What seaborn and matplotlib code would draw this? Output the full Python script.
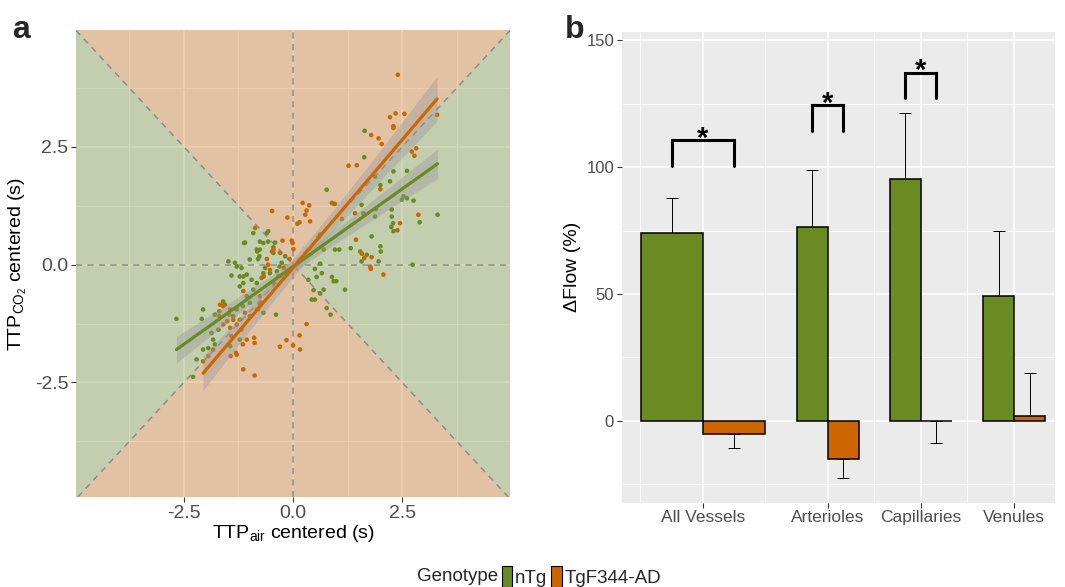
import numpy as np
import pandas as pd
import matplotlib
matplotlib.use('Agg')
import matplotlib.pyplot as plt
import seaborn as sns
from matplotlib.patches import Patch

# ---- panel a data: centred time-to-peak (s) ----
ntg_air = [1.64, 1.63, 0.77, 0.89, 0.96, 2.61, 2.30, 2.22, 2.00, 1.88, 2.61, 2.49, 2.53, 2.76,
           1.57, 1.61, 1.88, 1.90, 2.26, 2.26, 2.29, 2.25, 2.30, 2.90, 3.31, 1.32, 1.06, 0.96,
           0.70, 0.62, 0.58, 1.54, 1.57, 1.69, 1.80, 2.00, 2.01, 1.96, 2.74, 0.50, 0.54, 0.62,
           0.66, 0.35, 0.47, 0.62, 0.50, 0.70, 0.89, 0.93, 0.99, 1.19, 0.43, 0.77, 0.86,
           -1.10, -1.12, -0.91, -0.83, -0.82, -0.76, -0.77, -0.68, -0.60, -0.57, -0.41, -0.45,
           -0.45, -0.57, -0.76, -0.80, -0.99, -1.18, -1.29, -1.33, -1.48, -1.41, -1.22, -1.14,
           -1.06, -1.14, -0.95, -0.91, -0.83, -0.72, -0.68, -0.64, -0.53, -0.37, -0.31, -0.26,
           -0.18, -1.22, -1.06, -0.99, -1.15, -1.29, -1.37, -1.56, -1.69, -1.79, -2.06, -2.09,
           -1.87, -1.83, -1.79, -1.94, -2.06, -2.21, -2.29, -2.67, -0.39, -0.68, -1.44, -1.22,
           -1.71, -1.60, -0.76, -0.80]
ntg_co2 = [2.84, 2.28, 1.59, 1.31, 1.29, 1.99, 1.98, 1.77, 1.69, 1.87, 1.41, 1.38, 1.45, 1.36,
           1.27, 1.09, 1.02, 1.18, 1.17, 1.02, 0.88, 0.80, 0.71, 0.90, 1.06, 0.35, 0.32, 0.32,
           0.32, 0.64, 0.58, 0.28, 0.07, 0.21, 0.60, 0.39, 0.28, 0.07, 0.00, -0.09, -0.26, 0.02,
           -0.18, -0.32, -0.54, -0.61, -0.74, -0.53, -0.26, -0.35, -0.35, -0.53, -0.74, -0.92, -1.06,
           0.47, 0.46, 0.67, 0.32, 0.28, 0.32, 0.18, 0.46, 0.67, 0.71, 0.47, 0.37,
           0.25, 0.49, 0.49, 0.12, 0.11, -0.07, -0.04, 0.04, 0.07, -0.23, -0.25, -0.25,
           -0.21, -0.39, -0.32, -0.53, -0.39, -0.28, -0.18, -0.07, -0.18, -0.14, -0.04, 0.04,
           0.18, -0.46, -0.67, -0.81, -0.88, -0.95, -1.09, -0.85, -0.99, -1.06, -0.95, -1.15,
           -1.45, -1.59, -1.69, -1.77, -1.80, -2.01, -2.38, -1.15, -1.06, -1.02, -1.73, -1.59,
           -1.38, -0.78, -0.85, -0.95]
tg_air = [2.40, 3.30, 2.35, 2.55, 2.22, 2.30, 2.30, 1.79, 1.96, 2.03, 2.72, 2.78, 2.82, 1.27,
          1.46, 2.00, 2.87, 2.45, 2.39, 0.93, 1.12, 1.42, 1.44, 1.58, 1.63, 1.80, 1.77, 1.78,
          2.07, 0.22, 0.37, 0.31, 0.28, 0.15, 0.10, 0.39, -0.13, -0.48, -0.24, -0.03, -0.01,
          0.01, -0.08, -0.87, -0.48, -0.60, -0.57, -0.53, -0.67, -1.67, -1.60, -1.44, -1.46,
          -1.37, -1.60, -1.51, -1.44, -1.69, -1.29, -1.22, -1.18, -1.06, -1.10, -0.99, -0.83,
          -0.72, -0.76, -1.14, -1.41, -1.43, -1.31, -1.29, -1.14, -0.88, -0.89, -0.88, -1.15,
          -2.06, -1.94, -1.83, -0.30, -0.15, 0.00, 0.16, 0.15, 0.31, -0.34, -0.45, -0.21,
          -0.45, -0.30]
tg_co2 = [4.03, 3.18, 3.21, 3.20, 3.13, 2.94, 2.90, 2.75, 2.68, 2.56, 2.40, 2.31, 2.47, 2.10,
          2.11, 1.60, 1.06, 0.88, 0.73, 1.29, 0.97, 1.09, 0.53, 0.23, 0.14, 0.16, -0.04, -0.09,
          -0.21, 1.31, 1.26, 1.15, 1.06, 0.90, 0.87, 0.92, 1.00, 1.14, 0.51, 0.51, 0.46,
          0.33, 0.12, 0.78, 0.28, 0.12, 0.00, -0.11, -0.25, -0.85, -0.88, -0.95, -1.06,
          -1.17, -1.27, -1.20, -1.34, -1.09, -1.27, -1.17, -1.38, -1.59, -1.02, -1.09, -0.95,
          -0.81, -0.67, -0.56, -1.52, -1.94, -1.87, -1.91, -2.22, -2.35, -1.55, -1.66, -1.69,
          -2.05, -1.94, -1.80, -1.74, -1.60, -1.71, -1.80, -1.50, -1.26, -0.25, -0.39, -0.07,
          0.32, 0.25]

# ---- panel b data: change in flow (%) ----
vessel_types = ['All Vessels', 'Arterioles', 'Capillaries', 'Venules']
flow_ntg = [74.2, 76.3, 95.2, 49.4]
flow_tg = [-5.3, -15.1, -0.2, 2.0]
se_ntg = [13.8, 22.7, 25.9, 25.4]
se_tg = [5.5, 7.5, 8.6, 16.8]
significant = [True, True, True, False]
bracket_base = [100.5, 114.3, 127.2, None]

genotypes = ['nTg', 'TgF344-AD']
GREEN = '#698B22'
ORANGE = '#CD6600'
palette = {'nTg': GREEN, 'TgF344-AD': ORANGE}
TICK_GREY = '#4D4D4D'


def axis_fit(x, y, n=80):
    # reduced major axis line with a 95% band around it
    x = np.asarray(x)
    y = np.asarray(y)
    r = np.corrcoef(x, y)[0, 1]
    b = np.sign(r) * y.std() / x.std()
    a = y.mean() - b * x.mean()
    xs = np.linspace(x.min(), x.max(), n)
    resid = y - (a + b * x)
    s = np.sqrt((resid ** 2).sum() / (len(x) - 2))
    se = s * np.sqrt(1 / len(x) + (xs - x.mean()) ** 2 / ((x - x.mean()) ** 2).sum())
    return xs, a + b * xs, 1.98 * se


sns.set_theme(style='darkgrid', rc={'axes.facecolor': '#EBEBEB', 'grid.color': 'white'})
plt.rcParams['font.family'] = ['Liberation Sans', 'DejaVu Sans']
plt.rcParams['mathtext.fontset'] = 'custom'
plt.rcParams['mathtext.rm'] = 'Liberation Sans'
plt.rcParams['mathtext.it'] = 'Liberation Sans:italic'

fig = plt.figure(figsize=(10.65, 5.87), dpi=100)
ax_a = fig.add_axes([0.0714, 0.1533, 0.4075, 0.7956])
ax_b = fig.add_axes([0.5837, 0.1436, 0.4070, 0.8024])

# ================= panel a =================
L = 10
ax_a.fill([0, -L, L], [0, L, L], color=ORANGE, alpha=0.3, lw=0, zorder=1)
ax_a.fill([0, -L, L], [0, -L, -L], color=ORANGE, alpha=0.3, lw=0, zorder=1)
ax_a.fill([0, -L, -L], [0, L, -L], color=GREEN, alpha=0.3, lw=0, zorder=1)
ax_a.fill([0, L, L], [0, L, -L], color=GREEN, alpha=0.3, lw=0, zorder=1)

dash = dict(color='#8C8C8C', lw=1.1, dashes=(4, 3.5), zorder=2)
ax_a.axline((0, 0), slope=1, **dash)
ax_a.axline((0, 0), slope=-1, **dash)
ax_a.axhline(0, **dash)
ax_a.axvline(0, **dash)

pts = pd.DataFrame({
    'air': ntg_air + tg_air,
    'co2': ntg_co2 + tg_co2,
    'Genotype': ['nTg'] * len(ntg_air) + ['TgF344-AD'] * len(tg_air),
})
sns.scatterplot(data=pts, x='air', y='co2', hue='Genotype', palette=palette,
                s=11, linewidth=0, legend=False, ax=ax_a, zorder=3)

for g in genotypes:
    sub = pts[pts['Genotype'] == g]
    xs, fit, half_ci = axis_fit(sub['air'], sub['co2'])
    ax_a.fill_between(xs, fit - half_ci, fit + half_ci, color='#999999', alpha=0.4,
                      lw=0, zorder=5)
    sns.lineplot(x=xs, y=fit, color=palette[g], lw=2.3, ax=ax_a, zorder=6)

ax_a.set_xlim(-4.97, 4.97)
ax_a.set_ylim(-4.93, 4.98)
ax_a.set_xticks([-2.5, 0, 2.5])
ax_a.set_xticklabels(['-2.5', '0.0', '2.5'])
ax_a.set_yticks([-2.5, 0, 2.5])
ax_a.set_yticklabels(['-2.5', '0.0', '2.5'])
ax_a.set_xticks([-3.75, -1.25, 1.25, 3.75], minor=True)
ax_a.set_yticks([-3.75, -1.25, 1.25, 3.75], minor=True)
ax_a.set_xlabel(r'TTP$_{\mathrm{air}}$ centered (s)', fontsize=14, color='black', labelpad=1)
ax_a.set_ylabel(r'TTP$_{\mathrm{CO_2}}$ centered (s)', fontsize=14, color='black', labelpad=4)

# ================= panel b =================
centers = np.array([0, 1.344, 2.344, 3.344])
half = np.array([0.667, 0.333, 0.333, 0.333])

ax_b.bar(centers - half / 2, flow_ntg, width=half, color=GREEN, edgecolor='black', lw=1.1, zorder=3)
ax_b.bar(centers + half / 2, flow_tg, width=half, color=ORANGE, edgecolor='black', lw=1.1, zorder=3)

for i in range(len(vessel_types)):
    for x, m, s in [(centers[i] - half[i] / 2, flow_ntg[i], se_ntg[i]),
                    (centers[i] + half[i] / 2, flow_tg[i], se_tg[i])]:
        yerr = [[0], [s]] if m >= 0 else [[s], [0]]
        ax_b.errorbar([x], [m], yerr=yerr, fmt='none', ecolor='black',
                      elinewidth=0.7, capsize=4.5, capthick=0.7, zorder=2)

for i in range(len(vessel_types)):
    if not significant[i]:
        continue
    x0 = centers[i] - half[i] / 2
    x1 = centers[i] + half[i] / 2
    y0 = bracket_base[i]
    y1 = y0 + 10
    ax_b.plot([x0, x0, x1, x1], [y0, y1, y1, y0], color='black', lw=2.2,
              solid_joinstyle='miter', zorder=4)
    ax_b.text(centers[i], y1 - 4.8, '*', ha='center', va='bottom', fontsize=21,
              fontweight='bold', color='black', zorder=5)

mids = np.r_[centers[0] - (centers[1] - centers[0]) / 2, (centers[:-1] + centers[1:]) / 2]
ax_b.set_xlim(-0.87, 3.785)
ax_b.set_ylim(-32.2, 153.3)
ax_b.set_xticks(centers)
ax_b.set_xticklabels(vessel_types)
ax_b.set_xticks(mids, minor=True)
ax_b.set_yticks([0, 50, 100, 150])
ax_b.set_yticks([-25, 25, 75, 125], minor=True)
ax_b.set_xlabel('')
ax_b.set_ylabel('\u0394Flow (%)', fontsize=14, color='black', labelpad=4)

for ax in (ax_a, ax_b):
    ax.set_axisbelow(True)
    ax.grid(which='major', color='white', lw=1.1)
    ax.grid(which='minor', color='white', lw=0.55)
    ax.tick_params(which='major', bottom=True, left=True, length=3.5, width=0.8,
                   color='#333333', labelcolor=TICK_GREY, pad=2)
    ax.tick_params(which='minor', bottom=False, left=False, length=0)
    for sp in ax.spines.values():
        sp.set_visible(False)
ax_a.tick_params(which='major', labelsize=14)
ax_b.tick_params(axis='x', which='major', labelsize=12.5)
ax_b.tick_params(axis='y', which='major', labelsize=12)

# panel letters
fig.text(0.011, 0.935, 'a', fontsize=23, fontweight='bold')
fig.text(0.530, 0.935, 'b', fontsize=23, fontweight='bold')

# legend
handles = [Patch(facecolor=palette[g], edgecolor='black', lw=0.8) for g in genotypes]
fig.legend(handles, genotypes, loc='center left', bbox_to_anchor=(0.4715, 0.018), ncol=2,
           frameon=False, handlelength=0.55, handleheight=1.3, handletextpad=0.15,
           columnspacing=0.2, fontsize=13.5, borderaxespad=0, borderpad=0)
fig.text(0.468, 0.018, 'Genotype', ha='right', va='center', fontsize=13.5)

fig.savefig('out.png', dpi=100)
